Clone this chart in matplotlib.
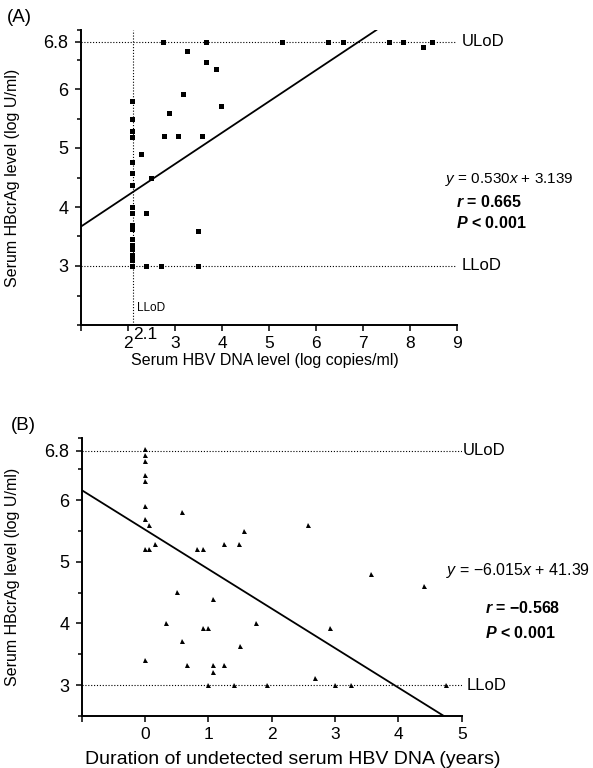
"""
HBcrAg vs HBV DNA (A) and vs duration of undetected HBV DNA (B).
"""

import numpy as np
import matplotlib
matplotlib.use('Agg')
import matplotlib.pyplot as plt
from matplotlib.ticker import MultipleLocator

plt.rcParams['font.family'] = ['Liberation Sans', 'DejaVu Sans']
plt.rcParams['mathtext.fontset'] = 'custom'
plt.rcParams['mathtext.rm'] = 'Liberation Sans'
plt.rcParams['mathtext.it'] = 'Liberation Sans:italic'
plt.rcParams['mathtext.bf'] = 'Liberation Sans:bold'
plt.rcParams['mathtext.bfit'] = 'Liberation Sans:italic:bold'

# ---- panel A data: serum HBV DNA (log copies/ml) vs HBcrAg (log U/ml)
hbv_dna = [2.75, 3.66, 5.27, 6.26, 6.57, 7.55, 7.85, 8.47, 8.27,
           2.08, 2.08, 2.08, 2.08, 2.08, 2.08, 2.08, 2.08, 2.08,
           2.08, 2.08, 2.08, 2.08, 2.08, 2.08, 2.08, 2.08,
           3.26, 3.66, 3.87, 3.17, 3.97, 2.87, 2.77, 3.06, 3.57,
           2.27, 2.48, 2.38, 3.48, 2.38, 2.70, 3.48]
hbcrag_a = [6.8, 6.8, 6.8, 6.8, 6.8, 6.8, 6.8, 6.8, 6.72,
            5.80, 5.49, 5.29, 5.19, 4.77, 4.58, 4.37, 4.00, 3.90,
            3.70, 3.62, 3.45, 3.36, 3.28, 3.19, 3.11, 3.00,
            6.65, 6.45, 6.34, 5.91, 5.71, 5.60, 5.20, 5.20, 5.20,
            4.90, 4.50, 3.90, 3.60, 3.00, 3.00, 3.00]
slope_a, icpt_a = 0.530, 3.139

# ---- panel B data: years without detectable HBV DNA vs HBcrAg
years = [0.0, 0.0, 0.0, 0.0, 0.0, 0.0, 0.0, 0.0, 0.0,
         0.06, 0.07, 0.16, 0.50, 0.58, 0.33, 0.59, 0.67, 0.82, 0.91,
         0.91, 1.00, 1.08, 1.08, 1.08, 1.00, 1.24, 1.24, 1.41, 1.49,
         1.50, 1.57, 1.75, 1.92, 2.57, 2.68, 2.92, 3.00, 3.25, 3.57,
         4.41, 4.75]
hbcrag_b = [6.83, 6.73, 6.63, 6.40, 6.30, 5.90, 5.69, 5.20, 3.41,
            5.59, 5.20, 5.29, 4.51, 5.81, 4.01, 3.71, 3.32, 5.20, 5.20,
            3.92, 3.92, 4.40, 3.32, 3.22, 3.00, 5.29, 3.32, 3.00, 5.29,
            3.63, 5.50, 4.01, 3.00, 5.59, 3.11, 3.92, 3.00, 3.00, 4.80,
            4.60, 3.00]
# fitted line as drawn on the plot axes
slope_b, icpt_b = -0.64, 5.52

ULOD, LLOD, DNA_LLOD = 6.8, 3.0, 2.1

W, H = 593, 768
fig = plt.figure(figsize=(W / 100, H / 100), dpi=100)


def px_axes(left, top, right, bottom):
    return fig.add_axes([left / W, 1 - bottom / H, (right - left) / W, (bottom - top) / H])


def style_axes(ax):
    for s in ('top', 'right'):
        ax.spines[s].set_visible(False)
    for s in ('left', 'bottom'):
        ax.spines[s].set_linewidth(1.4)
    ax.tick_params(which='both', direction='out', width=1.1)
    ax.tick_params(which='major', length=4)
    ax.tick_params(which='minor', length=3)
    ax.tick_params(axis='y', labelsize=13, pad=5)
    ax.tick_params(axis='x', labelsize=12.5, pad=4)


dot = dict(color='black', lw=0.8, ls=(0, (1, 1.6)))

# ---------------- (A)
ax = px_axes(81, 30, 457, 325)
style_axes(ax)
ax.set_xlim(1, 9)
ax.set_ylim(2, 7)
ax.axhline(ULOD, **dot)
ax.axhline(LLOD, **dot)
ax.axvline(DNA_LLOD, **dot)
ax.plot(hbv_dna, hbcrag_a, 's', color='black', ms=3.6, mew=0)
xa = np.array([1, (7 - icpt_a) / slope_a])
ax.plot(xa, slope_a * xa + icpt_a, color='black', lw=1.3)

ax.set_xticks(range(1, 10))
ax.set_xticklabels([''] + [str(i) for i in range(2, 10)])
ax.set_yticks([3, 4, 5, 6, 6.8])
ax.set_yticklabels(['3', '4', '5', '6', '6.8'])
ax.yaxis.set_minor_locator(MultipleLocator(0.5))
ax.text(DNA_LLOD, -0.008, '2.1', transform=ax.get_xaxis_transform(),
        ha='left', va='top', fontsize=12.5)
ax.text(2.2, 2.28, 'LLoD', fontsize=8.5, va='center')
ax.text(9.1, ULOD, 'ULoD', fontsize=12, va='center', clip_on=False)
ax.text(9.1, LLOD, 'LLoD', fontsize=12, va='center', clip_on=False)
ax.set_xlabel('Serum HBV DNA level (log copies/ml)', fontsize=11.5)
ax.xaxis.set_label_coords(0.49, -0.095)
ax.set_ylabel('Serum HBcrAg level (log U/ml)', fontsize=11.5)
ax.yaxis.set_label_coords(-0.162, 0.5)

fig.text(7 / W, 1 - 18 / H, '(A)', fontsize=13.5, va='center')
fig.text(445 / W, 1 - 180 / H, r'$y$ = 0.530$x$ + 3.139', fontsize=11, va='center')
fig.text(456 / W, 1 - 202 / H, r'$\mathbfit{r}$ = 0.665', fontsize=11.5,
         fontweight='bold', va='center')
fig.text(456 / W, 1 - 223 / H, r'$\mathbfit{P}$ < 0.001', fontsize=11.5,
         fontweight='bold', va='center')

# ---------------- (B)
bx = px_axes(81.7, 438.3, 461.7, 716)
style_axes(bx)
bx.set_xlim(-1, 5)
bx.set_ylim(2.5, 7)
bx.axhline(ULOD, **dot)
bx.axhline(LLOD, **dot)
bx.plot(years, hbcrag_b, '^', color='black', ms=3.6, mew=0)
xb = np.array([-1, (2.5 - icpt_b) / slope_b])
bx.plot(xb, slope_b * xb + icpt_b, color='black', lw=1.3)

bx.set_xticks(range(-1, 6))
bx.set_xticklabels([''] + [str(i) for i in range(0, 6)])
bx.set_yticks([3, 4, 5, 6, 6.8])
bx.set_yticklabels(['3', '4', '5', '6', '6.8'])
bx.yaxis.set_minor_locator(MultipleLocator(0.5))
bx.text(5.02, ULOD, 'ULoD', fontsize=12, va='center', clip_on=False)
bx.text(5.08, LLOD, 'LLoD', fontsize=12, va='center', clip_on=False)
bx.set_xlabel('Duration of undetected serum HBV DNA (years)', fontsize=14)
bx.xaxis.set_label_coords(0.556, -0.125)
bx.set_ylabel('Serum HBcrAg level (log U/ml)', fontsize=11.5)
bx.yaxis.set_label_coords(-0.162, 0.5)

fig.text(11 / W, 1 - 426 / H, '(B)', fontsize=13.5, va='center')
fig.text(446 / W, 1 - 571 / H, '$y$ = \u22126.015$x$ + 41.39', fontsize=11.5, va='center')
fig.text(485 / W, 1 - 608 / H, '$\\mathbfit{r}$ = \u22120.568', fontsize=11.5,
         fontweight='bold', va='center')
fig.text(485 / W, 1 - 633 / H, r'$\mathbfit{P}$ < 0.001', fontsize=11.5,
         fontweight='bold', va='center')

fig.savefig('out.png', dpi=100)
